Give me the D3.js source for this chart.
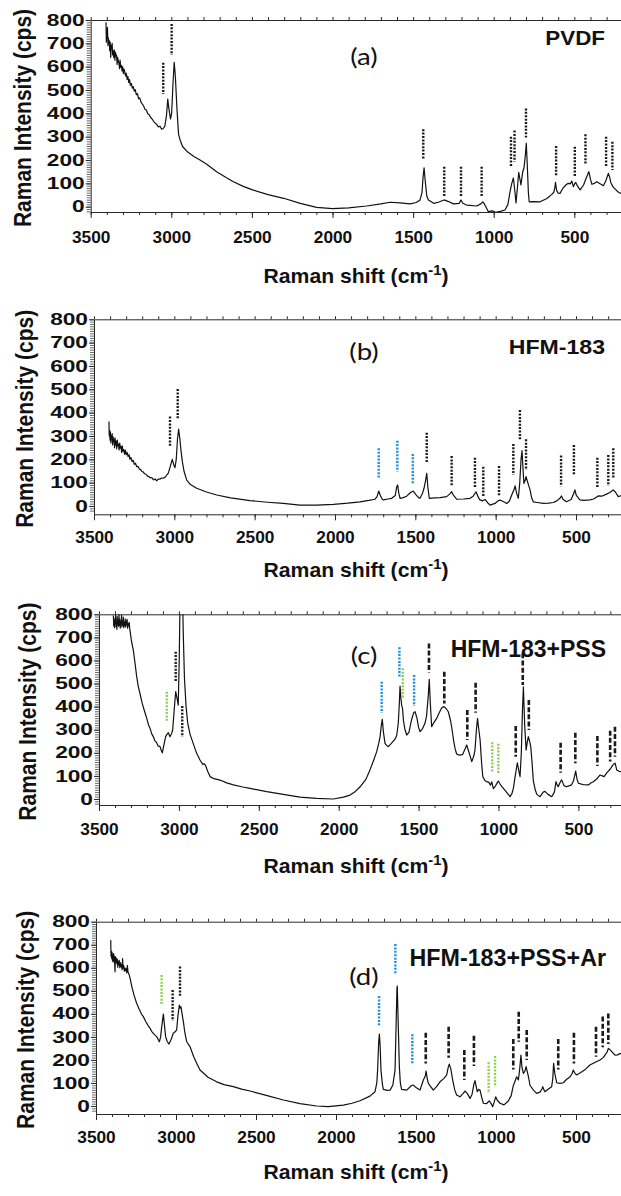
<!DOCTYPE html>
<html>
<head>
<meta charset="utf-8">
<script src="https://cdn.jsdelivr.net/npm/d3@7"></script>
<style>
  body { margin: 0; background: #fff; }
  svg { display: block; }
  text { font-family: "Liberation Sans", Arial, sans-serif; fill: #111; }
</style>
</head>
<body>
<div id="container"></div>
<script>
/* DATA: spectra as [Raman shift, intensity] */

const pvdfSpectrum = [
  [3405,790],[3403,705],[3401,745],[3398,725],[3396,768],[3393,690],[3390,722],[3388,700],[3385,712],[3382,668],
  [3379,705],[3376,640],[3373,690],[3370,676],[3367,700],[3364,650],[3361,668],[3357,640],[3354,672],[3350,628],
  [3347,662],[3343,645],[3340,650],[3336,610],[3333,640],[3329,625],[3325,615],[3321,592],[3318,628],[3314,598],
  [3310,606],[3306,582],[3302,600],[3297,570],[3293,590],[3288,575],[3284,560],[3279,572],[3274,545],[3269,558],
  [3264,532],[3259,545],[3254,520],[3248,528],[3242,508],[3236,515],[3230,495],[3224,502],[3217,480],[3210,484],
  [3203,462],[3196,466],[3188,448],[3180,440],[3172,432],[3164,418],[3155,414],[3146,398],[3137,394],[3128,382],
  [3119,376],[3110,366],[3100,358],[3090,352],[3080,342],[3070,345],[3060,332],[3050,335],[3040,345],
  [3030,390],[3022,461],[3015,420],[3005,376],[2998,400],[2990,520],[2982,619],[2975,560],[2965,420],[2955,310],
  [2945,285],[2930,258],[2900,235],[2860,215],[2822,200],[2780,182],[2719,150],[2660,125],[2615,107],[2550,86],
  [2496,72],[2400,52],[2303,36],[2200,14],[2099,-3],[2000,-8],[1900,-5],[1788,3],[1700,12],[1643,19],
  [1580,16],[1519,12],[1480,18],[1457,29],[1445,60],[1438,130],[1432,167],[1425,110],[1415,45],[1405,29],
  [1370,14],[1340,20],[1308,29],[1280,22],[1250,12],[1215,14],[1207,24],[1203,29],[1192,15],[1168,7],
  [1106,3],[1080,12],[1068,21],[1058,12],[1034,-21],[1010,-18],[988,-24],[960,-20],[930,-14],[912,10],
  [899,64],[888,100],[878,123],[868,60],[862,16],[852,90],[845,147],[838,120],[831,93],[820,150],
  [812,167],[804,220],[798,272],[792,180],[785,60],[780,21],[760,22],[713,21],[670,35],[640,53],
  [627,62],[620,85],[617,104],[610,70],[600,58],[589,57],[570,80],[550,95],[537,100],[525,98],
  [516,110],[506,86],[498,98],[491,104],[480,88],[464,72],[443,93],[425,125],[410,150],[400,118],
  [391,96],[375,100],[361,107],[340,98],[320,90],[305,110],[289,143],[280,125],[274,104],[261,86],
  [245,74],[230,64],[215,58],[205,56]
];

const hfmSpectrum = [
  [3407,362],[3405,300],[3403,325],[3400,282],[3398,318],[3395,270],[3392,300],[3390,288],[3387,310],[3384,262],
  [3381,296],[3378,275],[3375,285],[3372,250],[3369,292],[3366,262],[3362,278],[3359,245],[3355,282],[3352,258],
  [3348,265],[3344,240],[3340,270],[3336,248],[3332,255],[3328,230],[3324,258],[3320,235],[3315,242],[3310,222],
  [3305,240],[3300,220],[3294,230],[3288,212],[3282,220],[3276,200],[3270,208],[3263,190],[3256,196],[3249,178],
  [3242,183],[3234,168],[3226,170],[3218,158],[3210,156],[3202,148],[3194,146],[3185,138],[3176,136],[3167,128],
  [3158,126],[3149,120],[3140,122],[3130,112],[3120,116],[3110,108],[3100,115],[3090,115],[3080,120],[3069,119],
  [3055,125],[3045,135],[3038,140],[3025,170],
  [3013,200],[3004,178],[2996,164],[2988,200],[2980,290],[2973,329],[2966,290],[2958,235],[2950,190],[2940,150],
  [2923,111],[2900,92],[2861,76],[2800,60],[2736,47],[2650,35],[2529,23],[2420,16],[2322,11],[2218,4],
  [2114,4],[2010,7],[1920,12],[1844,18],[1790,24],[1751,29],[1738,40],[1728,64],[1718,45],[1705,28],
  [1699,26],[1670,30],[1647,33],[1625,45],[1616,82],[1610,90],[1603,55],[1595,33],[1575,36],[1554,42],
  [1530,58],[1513,64],[1498,50],[1480,36],[1471,33],[1455,55],[1446,76],[1436,110],[1429,140],[1422,80],
  [1413,33],[1380,35],[1346,36],[1305,40],[1285,52],[1274,61],[1262,45],[1243,29],[1200,30],[1160,33],
  [1140,42],[1122,61],[1110,40],[1098,26],[1080,22],[1066,28],[1050,14],[1035,4],[1004,11],[985,22],
  [973,26],[950,18],[931,11],[915,20],[900,47],[885,72],[879,86],[870,55],[859,33],[850,100],
  [842,200],[836,237],[830,160],[824,97],[816,110],[811,126],[800,100],[786,69],[776,35],[766,18],
  [740,15],[703,11],[670,12],[641,15],[620,22],[600,33],[590,43],[580,28],[559,18],[530,28],
  [515,52],[507,69],[498,45],[476,26],[450,24],[414,26],[390,30],[362,43],[340,42],[310,51],
  [290,58],[268,69],[255,60],[237,40],[220,44],[205,42]
];

const pssSpectrum = [
  [3410,795],[3408,750],[3406,782],[3403,742],[3401,770],[3398,760],[3396,798],[3393,745],[3391,765],[3388,735],
  [3386,790],[3383,755],[3381,772],[3378,748],[3375,800],[3373,752],[3370,778],[3367,740],[3365,768],[3362,758],
  [3359,795],[3357,745],[3354,770],[3351,752],[3348,788],[3345,742],[3342,765],[3339,750],[3336,780],[3333,745],
  [3330,772],[3327,755],[3324,778],[3321,740],[3318,760],[3315,750],[3311,765],[3308,738],[3305,725],
  [3298,690],[3290,660],[3285,645],[3275,590],[3264,530],[3255,490],[3244,458],[3230,415],
  [3215,380],[3201,349],[3190,320],[3180,305],[3170,282],[3160,270],[3150,252],[3140,245],[3130,230],[3118,227],
  [3110,210],[3104,200],[3095,230],[3083,270],[3075,280],[3066,287],[3056,270],[3045,285],[3039,299],[3030,380],
  [3020,465],[3010,430],[3004,407],[2998,600],[2992,900],[2985,1100],[2978,900],[2972,700],[2965,520],[2955,400],
  [2945,330],[2930,280],[2910,240],[2890,200],[2868,169],[2850,150],[2840,152],[2832,143],[2820,120],[2805,97],
  [2780,88],[2743,82],[2700,70],[2659,61],[2600,52],[2555,46],[2450,32],[2347,20],[2242,8],[2138,3],
  [2033,0],[1970,8],[1929,17],[1900,30],[1866,53],[1830,85],[1804,126],[1780,170],[1762,205],[1748,245],
  [1741,270],[1733,320],[1727,345],[1720,290],[1710,241],[1700,232],[1689,227],[1665,245],[1645,262],[1637,275],
  [1627,328],[1620,420],[1616,489],[1611,440],[1606,407],[1600,390],[1595,342],[1585,300],[1574,277],[1560,290],
  [1545,340],[1530,375],[1522,378],[1510,350],[1500,310],[1491,292],[1475,305],[1460,328],[1450,360],[1440,440],
  [1433,518],[1427,420],[1418,313],[1405,330],[1387,349],[1370,375],[1355,395],[1341,400],[1328,392],[1314,378],
  [1300,340],[1293,313],[1280,250],[1272,220],[1262,195],[1245,190],[1225,192],[1210,215],[1199,234],[1188,210],
  [1167,162],[1155,185],[1147,212],[1138,300],[1131,349],[1123,300],[1115,256],[1106,160],[1098,97],[1085,80],
  [1073,75],[1060,72],[1050,60],[1042,74],[1032,45],[1020,55],[1008,70],[1001,78],[990,65],[980,55],
  [969,46],[950,30],[927,10],[915,25],[907,46],[895,100],[882,157],[872,120],[865,97],[857,200],
  [850,380],[844,486],[836,320],[827,212],[820,245],[813,270],[805,250],[798,227],[790,160],[782,80],
  [770,40],[760,20],[740,10],[720,30],[709,33],[690,20],[667,10],[650,30],[640,75],[632,60],
  [626,53],[615,70],[605,83],[590,58],[574,53],[555,58],[543,61],[530,80],[517,121],[508,85],
  [500,68],[470,62],[437,61],[420,70],[406,75],[380,90],[364,104],[350,100],[339,97],[320,115],
  [300,130],[291,140],[278,152],[270,155],[260,126],[245,120],[233,118],[205,120]
];

const argonSpectrum = [
  [3408,720],[3406,650],[3404,672],[3402,640],[3400,668],[3397,630],[3395,655],[3392,625],[3390,662],[3387,640],
  [3385,650],[3383,612],[3381,583],[3379,648],[3376,625],[3373,642],[3370,618],[3367,638],[3364,602],[3361,628],
  [3358,612],[3355,632],[3351,600],[3348,622],[3344,605],[3341,615],[3337,592],[3334,640],[3331,598],[3327,610],
  [3323,585],[3320,600],[3316,588],[3312,596],[3308,578],[3304,610],[3300,582],[3296,575],[3292,568],[3287,554],
  [3275,515],[3262,480],[3246,446],[3230,420],[3215,398],
  [3204,388],[3190,368],[3175,350],[3162,337],[3150,322],[3135,310],[3121,301],[3112,290],[3104,279],[3096,300],
  [3090,340],[3079,399],[3072,350],[3065,301],[3055,280],[3044,269],[3030,290],[3017,316],[3005,322],[2996,330],
  [2988,390],[2979,438],[2974,425],[2969,431],[2962,400],[2954,366],[2945,320],[2933,279],[2912,257],[2890,215],
  [2870,185],[2850,156],[2800,125],[2746,105],[2700,93],[2642,84],[2590,73],[2537,65],[2430,45],[2329,26],
  [2225,10],[2121,0],[2050,-3],[1954,4],[1900,12],[1850,23],[1788,43],[1756,62],[1745,100],[1740,156],
  [1733,280],[1729,312],[1724,260],[1719,156],[1710,95],[1704,72],[1680,68],[1662,69],[1645,90],[1631,156],
  [1625,330],[1619,510],[1617,521],[1612,380],[1604,171],[1598,100],[1590,72],[1558,69],[1530,88],[1517,91],
  [1500,80],[1475,69],[1460,100],[1454,113],[1442,130],[1437,152],[1430,120],[1423,98],[1392,69],[1370,85],
  [1350,105],[1325,120],[1308,135],[1298,170],[1292,182],[1282,160],[1271,113],[1258,70],[1246,48],[1225,40],
  [1205,55],[1194,65],[1180,55],[1162,33],[1150,50],[1138,95],[1131,110],[1124,85],[1117,62],[1108,72],
  [1100,69],[1090,40],[1079,12],[1060,10],[1042,22],[1030,10],[1021,-3],[1010,20],[1002,40],[992,25],
  [975,12],[950,5],[923,22],[905,45],[892,88],[880,110],[871,127],[860,113],[852,160],[844,221],
  [838,170],[829,142],[820,150],[812,171],[805,150],[797,127],[788,90],[766,69],[746,55],[725,60],
  [712,75],[708,84],[700,70],[694,62],[670,75],[652,84],[645,120],[640,185],[632,140],[621,101],
  [600,98],[579,101],[560,115],[537,127],[525,140],[517,156],[505,140],[496,135],[470,145],[440,160],
  [413,178],[380,190],[350,200],[330,210],[319,221],[305,235],[298,250],[288,245],[275,235],[256,221],
  [240,222],[225,228],[205,225]
];

/* peak markers: [shift, top, bottom, colour, style] */
const pvdfMarks = [
  [3050,617,483,"k","dot"],[2998,783,650,"k","dot"],[1437,332,203,"k","dot"],[1307,171,43,"k","dot"],
  [1203,171,43,"k","dot"],[1075,171,43,"k","dot"],[893,300,171,"k","dot"],[871,326,193,"k","dot"],
  [800,421,297,"k","dot"],[613,260,129,"k","dot"],[497,257,129,"k","dot"],[431,310,179,"k","dot"],
  [303,300,171,"k","dot"],[264,278,157,"k","dot"]
];
const hfmMarks = [
  [3027,383,254,"k","dot"],[2979,501,372,"k","dot"],[1728,247,119,"b","dot"],[1612,280,147,"b","dot"],
  [1516,223,94,"b","dot"],[1429,314,183,"k","dot"],[1274,214,83,"k","dot"],[1129,207,76,"k","dot"],
  [1077,168,40,"k","dot"],[979,171,43,"k","dot"],[890,266,133,"k","dot"],[849,411,280,"k","dot"],
  [811,286,154,"k","dot"],[593,216,83,"k","dot"],[513,261,133,"k","dot"],[367,207,76,"k","dot"],
  [299,218,86,"k","dot"],[268,247,116,"k","dot"]
];
const pssMarks = [
  [3076,465,335,"g","dot"],[3020,638,508,"k","dot"],[2979,403,270,"k","dot"],[1731,508,374,"b","dot"],
  [1620,657,527,"b","dot"],[1599,566,436,"g","dot"],[1528,537,403,"b","dot"],[1435,674,547,"k","dash"],
  [1339,551,414,"k","dash"],[1195,385,256,"k","dash"],[1143,504,374,"k","dash"],[1039,246,114,"g","dot"],
  [1001,239,107,"g","dot"],[892,316,183,"k","dash"],[848,631,494,"k","dash"],[810,429,299,"k","dash"],
  [611,244,114,"k","dash"],[519,287,155,"k","dash"],[381,273,143,"k","dash"],[301,296,162,"k","dash"],
  [271,313,183,"k","dash"]
];
const argonMarks = [
  [3090,569,438,"g","dot"],[3021,503,369,"k","dot"],[2975,605,474,"k","dot"],[1731,477,347,"b","dot"],
  [1629,703,573,"b","dot"],[1523,312,182,"b","dot"],[1439,318,185,"k","dash"],[1296,344,210,"k","dash"],
  [1198,243,113,"k","dash"],[1138,305,174,"k","dash"],[1046,190,55,"g","dot"],[1006,217,84,"g","dot"],
  [892,291,159,"k","dash"],[858,409,279,"k","dash"],[808,330,200,"k","dash"],[611,291,159,"k","dash"],
  [513,318,185,"k","dash"],[375,344,214,"k","dash"],[333,388,255,"k","dash"],[298,402,269,"k","dash"]
];

const sampleNames = ["PVDF", "HFM-183", "HFM-183+PSS", "HFM-183+PSS+Ar"];
const panelTags = ["(a)", "(b)", "(c)", "(d)"];
const xMajorTicks = [3500, 3000, 2500, 2000, 1500, 1000, 500];
const xMinorTicks = [3500,3400,3300,3200,3100,3000,2900,2800,2700,2600,2500,2400,2300,2200,2100,2000,
  1900,1800,1700,1600,1500,1400,1300,1200,1100,1000,900,800,700,600,500,400,300];
const yMajorTicks = [0, 100, 200, 300, 400, 500, 600, 700, 800];

const markColors = { k: "#1a1a1a", b: "#1a8fe0", g: "#8ed14a" };

/* LAYOUT (pixel geometry of each panel) */
const width = 621, height = 1196;
const panels = [
  { data: pvdfSpectrum,  marks: pvdfMarks,  left: 90.7, right: 622.7, top: 20,    bottom: 212,   yMin: -22.7,
    tickY: 31.5, titleY: 283,  yTitleX: 31, nameX: 605, nameY: 45,  nameSize: 20,   nameK: 1.12, tagY: 65 },
  { data: hfmSpectrum,   marks: hfmMarks,   left: 94,   right: 624.2, top: 319.3, bottom: 514.3, yMin: -35.6,
    tickY: 28.5, titleY: 577,  yTitleX: 33, nameX: 605, nameY: 354, nameSize: 21,   nameK: 1.1,  tagY: 360 },
  { data: pssSpectrum,   marks: pssMarks,   left: 99,   right: 626.3, top: 614.3, bottom: 805,   yMin: -26,
    tickY: 30.5, titleY: 873,  yTitleX: 36, nameX: 606, nameY: 657, nameSize: 23,   nameK: 1.0,  tagY: 664 },
  { data: argonSpectrum, marks: argonMarks, left: 96,   right: 624,   top: 921.7, bottom: 1114,  yMin: -34.7,
    tickY: 29.5, titleY: 1179, yTitleX: 34, nameX: 606, nameY: 966, nameSize: 23.5, nameK: 0.99, tagY: 985 }
];

const svg = d3.select("#container")
  .append("svg")
  .attr("width", width)
  .attr("height", height);

panels.forEach((p, i) => {
  const x = d3.scaleLinear().domain([3500, 200]).range([p.left, p.right]);
  const y = d3.scaleLinear().domain([p.yMin, 800]).range([p.bottom, p.top]);

  const g = svg.append("g");

  // clip for the spectrum (panel c runs off the top)
  const clipId = "clip" + i;
  g.append("clipPath").attr("id", clipId)
    .append("rect")
    .attr("x", p.left).attr("y", p.top)
    .attr("width", p.right - p.left).attr("height", p.bottom - p.top);

  // AXES
  const axisColor = "#2a2a2a";

  // minor y comb
  g.append("g")
    .attr("transform", `translate(${p.left},0)`)
    .call(d3.axisLeft(y).tickValues(d3.range(-20, 801, 10)).tickSize(4).tickFormat(""))
    .call(a => a.select(".domain").remove())
    .call(a => a.selectAll("line").attr("stroke", "#666").attr("stroke-width", 0.7));

  const yAxis = g.append("g")
    .attr("transform", `translate(${p.left},0)`)
    .call(d3.axisLeft(y).tickValues(yMajorTicks).tickSize(5).tickSizeOuter(0));
  yAxis.selectAll("text")
    .attr("x", -6 / 1.42)
    .attr("transform", "scale(1.42,1)")
    .style("font-size", "16px").style("font-weight", "bold").attr("fill", "#111");

  // bottom minor + major
  g.append("g")
    .attr("transform", `translate(0,${p.bottom})`)
    .call(d3.axisBottom(x).tickValues(xMinorTicks).tickSize(3).tickFormat(""))
    .call(a => a.select(".domain").remove());
  const xAxis = g.append("g")
    .attr("transform", `translate(0,${p.bottom})`)
    .call(d3.axisBottom(x).tickValues(xMajorTicks).tickSize(6).tickSizeOuter(0).tickFormat(d3.format("d")));
  xAxis.selectAll("text")
    .attr("y", p.tickY).attr("dy", 0)
    .attr("transform", "scale(1.08,1)")
    .style("font-size", "16px").style("font-weight", "bold").attr("fill", "#111");

  // top ticks
  g.append("g")
    .attr("transform", `translate(0,${p.top})`)
    .call(d3.axisTop(x).tickValues(xMinorTicks).tickSize(3).tickSizeOuter(0).tickFormat(""));

  g.selectAll(".domain, .tick line").attr("stroke", axisColor);

  // SPECTRUM
  const line = d3.line().x(d => x(d[0])).y(d => y(d[1]));
  g.append("path")
    .datum(p.data)
    .attr("clip-path", `url(#${clipId})`)
    .attr("fill", "none")
    .attr("stroke", "#111")
    .attr("stroke-width", 1.2)
    .attr("stroke-linejoin", "round")
    .attr("d", line);

  // PEAK MARKERS
  g.selectAll("line.mark")
    .data(p.marks)
    .join("line")
    .attr("class", "mark")
    .attr("x1", d => x(d[0])).attr("x2", d => x(d[0]))
    .attr("y1", d => y(d[1])).attr("y2", d => y(d[2]))
    .attr("stroke", d => markColors[d[3]])
    .attr("stroke-width", d => d[4] === "dash" ? 2.6 : 2.4)
    .attr("stroke-dasharray", d => d[4] === "dash" ? "5,2.2" : "2,1.4");

  // TEXT
  const xTitle = g.append("text")
    .attr("transform", `translate(356,${p.titleY}) scale(1.06,1)`)
    .attr("text-anchor", "middle")
    .style("font-size", "20px").style("font-weight", "bold");
  xTitle.append("tspan").text("Raman shift (cm");
  xTitle.append("tspan").attr("dy", -8).style("font-size", "14px").text("-1");
  xTitle.append("tspan").attr("dy", 8).text(")");

  g.append("text")
    .attr("transform", `translate(${p.yTitleX},${(p.top + p.bottom) / 2 + 2}) scale(1.1,1) rotate(-90)`)
    .attr("text-anchor", "middle")
    .style("font-size", "21px").style("font-weight", "bold")
    .text("Raman Intensity (cps)");

  g.append("text")
    .attr("transform", `translate(${p.nameX},${p.nameY}) scale(${p.nameK},1)`)
    .attr("text-anchor", "end")
    .style("font-size", p.nameSize + "px").style("font-weight", "bold")
    .text(sampleNames[i]);

  g.append("text")
    .attr("transform", `translate(364,${p.tagY}) scale(1.15,1)`)
    .attr("text-anchor", "middle")
    .style("font-family", "Lato, 'Open Sans', sans-serif")
    .style("font-size", "24px")
    .text(panelTags[i]);
});
</script>
</body>
</html>
